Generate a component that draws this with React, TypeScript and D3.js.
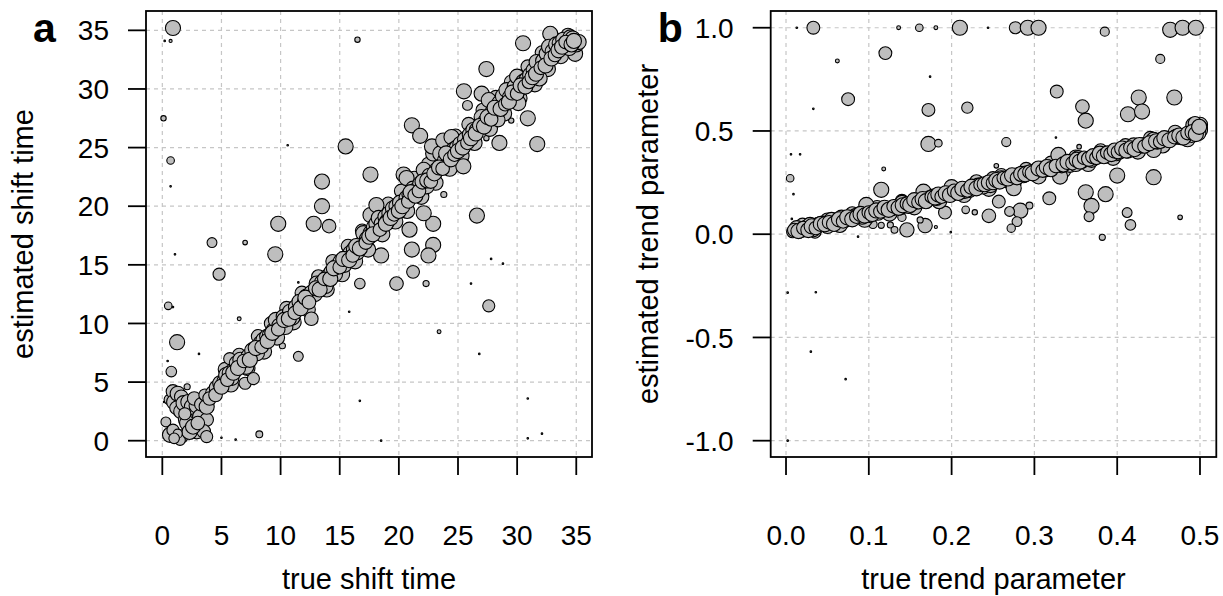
import React from "react";
import * as d3 from "d3";

// ---------- Panel a: shift time ----------
const trueShift = [
  0.9, 0.2, 0.7, 0.1, 0.7, 0.7, 10.6, 9.8, 4.2, 7.0,
  13.5, 13.5, 12.8, 14.1, 16.5, 15.5, 17.6, 21.1, 21.8, 25.5,
  25.8, 27.4, 30.5, 30.9, 28.5, 31.7, 27.4, 29.5, 26.6, 23.8,
  22.9, 22.9, 22.1, 20.9, 21.1, 22.5, 18.5, 21.2, 16.7, 19.8,
  22.3, 27.6, 23.4, 27.8, 28.8, 26.1, 15.8, 26.8, 16.7, 18.5,
  30.9, 30.9, 32.1, 9.55, 1.07, 4.8, 0.5, 0.9, 1.25, 6.5,
  3.1, 0.45, 0.76, 10.15, 11.5, 11.5, 0.3, 8.2, 5.0, 6.2,
  0.15, 0.7,
  0.6, 0.9, 1.0, 1.3, 1.6, 1.2, 1.6, 1.8, 2.0, 2.2,
  2.5, 2.1, 2.9, 2.7, 3.2, 3.3, 3.75, 3.75, 3.6, 2.1,
  2.9, 3.5, 3.75, 0.65, 0.9, 1.6, 1.5, 2.3, 1.3, 2.6,
  1.9, 3.0, 1.0,
  5.3, 5.8, 6.5, 7.2, 8.1, 8.6, 9.2, 9.7, 10.5, 11.1,
  11.8, 12.3, 13.2, 13.9, 14.4, 15.2, 15.7, 16.3, 16.9, 17.4,
  18.0, 18.6, 19.1, 19.7, 20.2, 20.7, 21.3, 21.9, 22.5, 23.1,
  23.6, 24.3, 24.8, 25.3, 25.9, 26.4, 27.1, 27.7, 28.2, 28.9,
  29.5, 30.2, 30.9, 31.5, 32.1, 32.6, 33.1, 33.7, 34.3, 34.8,
  4.3, 4.0, 4.6, 4.9, 5.2, 5.4, 5.7, 5.9, 6.1, 5.7,
  6.3, 6.6, 6.8, 7.0, 7.1, 7.3, 7.6, 7.7, 8.0, 8.3,
  8.55, 8.8, 9.1, 9.4, 9.6, 9.9, 10.4, 10.2, 10.8, 11.0,
  11.3, 11.6, 12.0, 12.2, 12.6, 12.6, 12.9, 13.05, 13.5, 13.8,
  14.0, 14.3, 14.6, 14.8, 15.1, 15.4, 15.6, 15.9, 16.2, 16.5,
  16.85, 17.0, 17.3, 17.6, 17.6, 17.9, 18.1, 18.1, 18.3, 18.55,
  18.8, 19.0, 19.2, 19.5, 19.8, 20.1, 20.4, 20.65, 20.65, 20.9,
  21.2, 21.5, 21.8, 22.1, 22.35, 22.6, 22.9, 22.8, 23.2, 23.5,
  23.75, 23.9, 24.2, 24.45, 24.6, 24.9, 25.2, 25.45, 25.6, 26.0,
  26.3, 26.6, 27.0, 27.0, 27.3, 27.6, 27.9, 28.3, 28.5, 28.4,
  28.8, 29.1, 29.4, 29.8, 30.1, 30.1, 30.0, 30.5, 30.8, 31.1,
  31.4, 31.65, 31.9, 32.2, 32.5, 32.8, 32.7, 33.0, 33.3, 33.6,
  33.9, 34.2, 34.5, 34.7, 34.9, 35.0, 35.2, 34.4,
  4.5, 5.0, 5.5, 6.0, 6.4, 6.9, 7.4, 7.9, 8.4, 8.9,
  9.3, 9.8, 10.3, 10.7, 11.2, 11.7, 12.1, 12.4, 13.0, 13.3,
  13.7, 14.2, 14.5, 15.0, 15.3, 15.8, 16.1, 16.4, 16.7, 17.2,
  17.5, 17.8, 18.4, 18.9, 19.3, 19.6, 20.0, 20.3, 20.8, 21.0,
  21.4, 21.7, 22.0, 22.4, 22.7, 23.0, 23.4, 23.7, 24.0, 24.4,
  24.7, 25.0, 25.4, 25.8, 26.1, 26.5, 26.8, 27.2, 27.5, 27.8,
  28.1, 28.6, 29.0, 29.3, 29.6, 30.0, 30.3, 30.7, 31.0, 31.3,
  31.6, 32.0, 32.4, 32.9, 33.2, 33.5, 33.8, 34.1, 34.6, 34.8,
];
const estShift = [
  35.2, 34.1, 34.1, 27.5, 23.9, 21.7, 25.2, 18.5, 16.9, 16.9,
  22.1, 20.0, 18.5, 18.3, 34.2, 25.1, 22.7, 26.9, 26.0, 29.8,
  28.6, 31.7, 33.9, 27.5, 25.4, 25.3, 25.8, 27.3, 19.2, 21.0,
  18.5, 16.7, 19.4, 18.0, 16.3, 15.8, 15.8, 14.4, 13.4, 13.4,
  13.4, 11.5, 9.3, 15.5, 15.1, 13.4, 11.0, 7.4, 3.4, 0.0,
  3.6, 0.2, 0.6, 15.9, 15.9, 14.2, 11.5, 11.4, 8.4, 10.4,
  7.4, 6.8, 5.9, 8.1, 7.2, 13.5, 1.6, 0.55, 0.25, 0.1,
  3.3, 4.6,
  3.5, 4.2, 3.3, 4.0, 3.75, 2.8, 2.5, 3.2, 1.8, 3.3,
  2.9, 4.6, 3.0, 3.6, 2.05, 3.1, 1.8, 2.9, 3.9, 1.5,
  0.8, 0.8, 0.35, 0.5, 0.9, 0.35, 0.05, 0.75, 0.6, 1.2,
  2.3, 1.5, 0.2,
  6.1, 4.8, 7.3, 6.2, 8.9, 7.6, 10.0, 8.8, 11.3, 10.1,
  12.6, 11.2, 14.0, 12.9, 15.3, 14.2, 16.6, 15.3, 17.9, 16.3,
  19.2, 17.6, 20.2, 18.7, 21.3, 19.6, 22.4, 20.8, 23.6, 22.0,
  24.8, 23.2, 26.0, 24.3, 27.0, 25.4, 28.2, 26.6, 29.3, 27.9,
  30.6, 29.2, 31.9, 30.4, 33.1, 31.7, 34.3, 32.8, 34.6, 33.5,
  4.05, 3.6, 4.5, 4.9, 5.1, 5.6, 5.75, 5.3, 6.1, 7.0,
  6.6, 6.9, 6.4, 4.9, 6.3, 7.2, 7.7, 5.3, 7.45, 8.3,
  8.6, 8.9, 9.0, 9.4, 10.3, 9.8, 9.7, 10.6, 11.0, 10.5,
  11.4, 11.85, 11.9, 12.3, 12.6, 10.4, 12.5, 13.4, 13.5, 13.2,
  14.0, 14.4, 14.2, 14.9, 15.3, 15.0, 15.6, 16.0, 16.3, 16.0,
  16.8, 17.7, 17.2, 17.7, 19.25, 18.2, 18.5, 20.1, 19.0, 18.5,
  19.1, 18.7, 19.4, 19.8, 20.0, 20.3, 22.7, 20.7, 22.4, 21.0,
  21.5, 21.4, 21.9, 23.1, 21.7, 22.6, 24.5, 25.1, 23.1, 24.5,
  25.6, 23.9, 24.2, 25.9, 24.8, 25.0, 25.3, 23.4, 25.7, 26.1,
  26.5, 26.5, 27.6, 29.6, 27.2, 29.05, 28.0, 28.2, 28.8, 27.35,
  29.4, 29.9, 29.3, 30.2, 29.9, 28.8, 31.05, 30.6, 30.8, 31.2,
  31.6, 32.3, 30.9, 32.4, 33.0, 34.7, 33.6, 33.2, 33.8, 33.9,
  34.2, 33.9, 34.4, 34.3, 33.0, 33.8, 34.0, 33.5,
  3.9, 4.6, 5.2, 5.8, 6.2, 6.8, 6.9, 7.9, 8.0, 8.5,
  9.2, 9.5, 10.3, 10.4, 10.9, 11.3, 12.2, 11.8, 13.0, 12.9,
  13.8, 13.8, 14.7, 14.8, 15.5, 15.4, 15.8, 16.6, 16.4, 16.9,
  17.4, 17.6, 18.0, 18.5, 19.0, 19.3, 19.6, 20.0, 20.4, 21.2,
  20.9, 21.3, 22.1, 22.2, 22.1, 22.8, 23.3, 23.2, 24.5, 24.0,
  24.4, 24.7, 25.0, 25.4, 25.8, 26.2, 26.9, 26.8, 27.6, 27.4,
  28.4, 28.3, 28.7, 28.9, 29.7, 29.6, 30.3, 30.2, 30.6, 31.0,
  31.3, 31.8, 32.0, 32.6, 32.9, 33.3, 33.6, 34.0, 33.8, 34.1,
];
const shiftWeight = [
  0.9, 0, 0.1, 0.25, 0.4, 0, 0, 0.9, 0.55, 0.2,
  0.9, 0.9, 0.9, 0.8, 0.25, 0.9, 0.9, 0.9, 0.9, 0.9,
  0.55, 0.9, 0.9, 0.9, 0.9, 0.9, 0.25, 0.25, 0.9, 0.3,
  0.9, 0.9, 0.9, 0.9, 0.9, 0.9, 0.9, 0.75, 0.6, 0.8,
  0.3, 0.7, 0.15, 0, 0, 0, 0, 0, 0, 0,
  0, 0, 0, 0.9, 0, 0.7, 0.4, 0, 0.9, 0.15,
  0, 0, 0.6, 0.3, 0.55, 0, 0.55, 0.35, 0, 0,
  0, 0.1,
  0.6, 0.8, 0.9, 0.9, 0.8, 0.8, 0.9, 0.9, 0.9, 0.9,
  0.9, 0.3, 0.9, 0.8, 0.9, 0.8, 0.8, 0.9, 0.7, 0.9,
  0.9, 0.8, 0.7, 0.9, 0.7, 0.8, 0.6, 0.9, 0.5, 0.9,
  0.7, 0.8, 0.6,
  0.8, 0.9, 0.8, 0.9, 0.8, 0.9, 0.8, 0.9, 0.8, 0.9,
  0.8, 0.9, 0.8, 0.9, 0.8, 0.9, 0.8, 0.9, 0.8, 0.9,
  0.8, 0.9, 0.8, 0.9, 0.8, 0.9, 0.8, 0.9, 0.8, 0.9,
  0.8, 0.9, 0.8, 0.9, 0.8, 0.9, 0.8, 0.9, 0.8, 0.9,
  0.8, 0.9, 0.8, 0.9, 0.8, 0.9, 0.8, 0.9, 0.8, 0.9,
  0.9, 0.8, 0.9, 0.9, 0.8, 0.9, 0.9, 0.8, 0.9, 0.7,
  0.9, 0.9, 0.9, 0.7, 0.9, 0.9, 0.9, 0.7, 0.9, 0.9,
  0.9, 0.8, 0.9, 0.9, 0.9, 0.9, 0.9, 0.8, 0.9, 0.9,
  0.9, 0.9, 0.8, 0.9, 0.9, 0.8, 0.9, 0.9, 0.9, 0.9,
  0.9, 0.9, 0.9, 0.9, 0.9, 0.9, 0.9, 0.9, 0.9, 0.8,
  0.9, 0.9, 0.9, 0.9, 0.9, 0.9, 0.9, 0.9, 0.9, 0.9,
  0.8, 0.9, 0.9, 0.9, 0.9, 0.9, 0.9, 0.9, 0.9, 0.9,
  0.9, 0.9, 0.9, 0.9, 0.9, 0.9, 0.9, 0.9, 0.9, 0.9,
  0.9, 0.9, 0.9, 0.9, 0.9, 0.9, 0.9, 0.9, 0.9, 0.9,
  0.9, 0.9, 0.9, 0.9, 0.9, 0.9, 0.9, 0.9, 0.9, 0.8,
  0.9, 0.9, 0.9, 0.9, 0.9, 0.9, 0.9, 0.9, 0.9, 0.9,
  0.9, 0.9, 0.9, 0.9, 0.9, 0.9, 0.9, 0.9, 0.9, 0.9,
  0.9, 0.9, 0.9, 0.9, 0.9, 0.9, 0.9, 0.9,
  0.8, 0.9, 0.8, 0.9, 0.9, 0.8, 0.9, 0.9, 0.8, 0.9,
  0.9, 0.8, 0.9, 0.9, 0.8, 0.9, 0.9, 0.8, 0.9, 0.9,
  0.8, 0.9, 0.9, 0.8, 0.9, 0.9, 0.8, 0.9, 0.9, 0.8,
  0.9, 0.9, 0.8, 0.9, 0.9, 0.8, 0.9, 0.9, 0.8, 0.9,
  0.9, 0.8, 0.9, 0.9, 0.8, 0.9, 0.9, 0.8, 0.9, 0.9,
  0.8, 0.9, 0.9, 0.8, 0.9, 0.9, 0.8, 0.9, 0.9, 0.8,
  0.9, 0.9, 0.8, 0.9, 0.9, 0.8, 0.9, 0.9, 0.8, 0.9,
  0.9, 0.8, 0.9, 0.9, 0.8, 0.9, 0.9, 0.8, 0.9, 0.9,
];
const shiftTicks = [0, 5, 10, 15, 20, 25, 30, 35];

// ---------- Panel b: trend parameter ----------
const trueTrend = [
  0.013, 0.033, 0.136, 0.161, 0.181, 0.062, 0.12, 0.174, 0.075, 0.033,
  0.172, 0.172, 0.184, 0.006, 0.017, 0.005, 0.118, 0.115, 0.009, 0.007,
  0.087, 0.105, 0.115, 0.126, 0.131, 0.146, 0.168, 0.14, 0.162, 0.181,
  0.21, 0.244, 0.277, 0.292, 0.305, 0.385, 0.464, 0.479, 0.495, 0.452,
  0.327, 0.219, 0.358, 0.362, 0.426, 0.413, 0.43, 0.469, 0.266, 0.326,
  0.354, 0.254, 0.40, 0.444, 0.362, 0.386, 0.369, 0.366, 0.412, 0.416,
  0.476, 0.382, 0.318, 0.257, 0.283, 0.294, 0.27, 0.279, 0.272, 0.245,
  0.217, 0.228, 0.192, 0.199, 0.002, 0.036, 0.03, 0.072, 0.002, 0.003,
  0.012, 0.025,
  0.02, 0.035, 0.05, 0.065, 0.08, 0.095, 0.11, 0.125, 0.14, 0.155,
  0.17, 0.185, 0.2, 0.215, 0.23, 0.245, 0.26, 0.275, 0.29, 0.305,
  0.32, 0.335, 0.35, 0.365, 0.38, 0.395, 0.41, 0.425, 0.44, 0.455,
  0.47, 0.485, 0.5, 0.49,
  0.008, 0.013, 0.016, 0.019, 0.024, 0.029, 0.033, 0.039, 0.045, 0.05,
  0.055, 0.062, 0.067, 0.071, 0.078, 0.083, 0.087, 0.092, 0.097, 0.101,
  0.106, 0.111, 0.116, 0.121, 0.128, 0.133, 0.138, 0.143, 0.148, 0.152,
  0.157, 0.162, 0.166, 0.17, 0.174, 0.178, 0.182, 0.186, 0.19, 0.195,
  0.2, 0.206, 0.211, 0.216, 0.222, 0.227, 0.232, 0.238, 0.243, 0.247,
  0.252, 0.256, 0.26, 0.265, 0.27, 0.275, 0.277, 0.282, 0.287, 0.291,
  0.296, 0.3, 0.303, 0.308, 0.313, 0.318, 0.323, 0.329, 0.331, 0.333,
  0.338, 0.343, 0.348, 0.353, 0.357, 0.362, 0.369, 0.373, 0.377, 0.381,
  0.386, 0.39, 0.395, 0.399, 0.403, 0.408, 0.413, 0.419, 0.424, 0.43,
  0.436, 0.444, 0.444, 0.449, 0.454, 0.46, 0.466, 0.472, 0.477, 0.482,
  0.488, 0.49, 0.492, 0.494, 0.497, 0.5, 0.5, 0.498, 0.2, 0.14,
  0.25, 0.35, 0.42,
  0.01, 0.015, 0.021, 0.027, 0.031, 0.036, 0.042, 0.047, 0.052, 0.058,
  0.064, 0.069, 0.074, 0.08, 0.085, 0.09, 0.095, 0.1, 0.104, 0.109,
  0.114, 0.119, 0.124, 0.13, 0.136, 0.141, 0.146, 0.15, 0.155, 0.16,
  0.165, 0.169, 0.176, 0.18, 0.184, 0.188, 0.193, 0.198, 0.203, 0.208,
  0.213, 0.219, 0.224, 0.23, 0.235, 0.24, 0.245, 0.25, 0.254, 0.258,
  0.263, 0.268, 0.273, 0.279, 0.284, 0.289, 0.294, 0.298, 0.305, 0.31,
  0.315, 0.32, 0.326, 0.335, 0.34, 0.346, 0.351, 0.355, 0.36, 0.366,
  0.371, 0.375, 0.379, 0.384, 0.388, 0.393, 0.397, 0.401, 0.406, 0.411,
  0.416, 0.421, 0.427, 0.433, 0.439, 0.447, 0.452, 0.457, 0.463, 0.469,
  0.475, 0.48, 0.485, 0.491, 0.495, 0.499,
];
const estTrend = [
  1.0, 1.0, 1.0, 1.0, 1.0, 0.839, 0.877, 0.763, 0.654, 0.607,
  0.602, 0.437, 0.441, 0.387, 0.387, 0.271, 0.316, 0.215, 0.194, 0.074,
  -0.012, 0.048, 0.043, 0.045, 0.021, 0.021, 0.042, 0.082, 0.069, 0.035,
  1.0, 1.0, 1.0, 1.0, 1.0, 0.981, 0.99, 1.0, 1.0, 0.849,
  0.691, 0.613, 0.618, 0.55, 0.662, 0.581, 0.594, 0.662, 0.446, 0.468,
  0.424, 0.331, 0.284, 0.276, 0.203, 0.194, 0.137, 0.085, 0.105, 0.045,
  0.082, -0.015, 0.174, 0.158, 0.114, 0.139, 0.11, 0.061, 0.029, 0.089,
  0.118, 0.106, 0.105, 0.01, -0.283, -0.281, -0.569, -0.702, -1.0, 0.005,
  0.0, 0.03,
  0.045, 0.01, 0.07, 0.045, 0.1, 0.07, 0.13, 0.1, 0.16, 0.13,
  0.19, 0.16, 0.225, 0.19, 0.255, 0.22, 0.285, 0.25, 0.315, 0.28,
  0.345, 0.31, 0.375, 0.34, 0.405, 0.37, 0.43, 0.4, 0.465, 0.43,
  0.495, 0.46, 0.53, 0.5,
  0.012, 0.029, 0.005, 0.021, 0.035, 0.045, 0.02, 0.045, 0.055, 0.04,
  0.069, 0.062, 0.08, 0.069, 0.078, 0.09, 0.093, 0.085, 0.142, 0.093,
  0.11, 0.104, 0.118, 0.122, 0.126, 0.135, 0.13, 0.145, 0.137, 0.15,
  0.158, 0.166, 0.206, 0.165, 0.175, 0.182, 0.172, 0.19, 0.19, 0.2,
  0.196, 0.206, 0.215, 0.21, 0.215, 0.225, 0.235, 0.231, 0.245, 0.238,
  0.255, 0.26, 0.271, 0.262, 0.28, 0.223, 0.279, 0.288, 0.282, 0.295,
  0.3, 0.305, 0.311, 0.316, 0.31, 0.322, 0.32, 0.384, 0.279, 0.33,
  0.34, 0.336, 0.35, 0.368, 0.355, 0.36, 0.36, 0.372, 0.378, 0.384,
  0.385, 0.39, 0.395, 0.392, 0.4, 0.41, 0.405, 0.416, 0.42, 0.43,
  0.432, 0.408, 0.457, 0.445, 0.457, 0.46, 0.462, 0.473, 0.47, 0.48,
  0.489, 0.481, 0.529, 0.537, 0.5, 0.513, 0.505, 0.49, 0.228, 0.155,
  0.27, 0.34, 0.43,
  0.02, 0.015, 0.03, 0.02, 0.038, 0.03, 0.05, 0.048, 0.058, 0.05,
  0.072, 0.062, 0.082, 0.072, 0.085, 0.098, 0.09, 0.105, 0.098, 0.115,
  0.11, 0.128, 0.118, 0.135, 0.128, 0.14, 0.148, 0.142, 0.165, 0.155,
  0.17, 0.16, 0.182, 0.178, 0.192, 0.182, 0.198, 0.19, 0.21, 0.2,
  0.22, 0.212, 0.23, 0.222, 0.24, 0.242, 0.25, 0.248, 0.262, 0.255,
  0.272, 0.27, 0.285, 0.272, 0.292, 0.29, 0.302, 0.295, 0.318, 0.308,
  0.325, 0.315, 0.33, 0.338, 0.35, 0.344, 0.36, 0.352, 0.37, 0.365,
  0.378, 0.37, 0.39, 0.378, 0.395, 0.388, 0.405, 0.398, 0.415, 0.405,
  0.42, 0.412, 0.432, 0.425, 0.44, 0.45, 0.448, 0.465, 0.455, 0.47,
  0.478, 0.468, 0.49, 0.495, 0.485, 0.52,
];
const trendWeight = [
  0, 0.75, 0.15, 0.4, 0.15, 0.15, 0.75, 0, 0.75, 0,
  0.75, 0.9, 0.4, 0, 0, 0.4, 0.15, 0.9, 0, 0,
  0, 0.45, 0.3, 0.3, 0.35, 0.85, 0.85, 0.45, 0.3, 0.1,
  0.9, 0, 0.7, 0.9, 0.9, 0.5, 0.9, 0.9, 0.9, 0.5,
  0.75, 0.65, 0.8, 0.9, 0.9, 0.9, 0.9, 0.9, 0.5, 0,
  0.2, 0.2, 0.9, 0.9, 0.9, 0.9, 0.9, 0.55, 0.55, 0.6,
  0.2, 0.3, 0.75, 0.75, 0.9, 0.35, 0.55, 0.55, 0.45, 0.8,
  0.4, 0.25, 0.75, 0, 0, 0, 0, 0, 0, 0,
  0, 0.1,
  0.8, 0.7, 0.8, 0.9, 0.8, 0.9, 0.8, 0.9, 0.8, 0.9,
  0.8, 0.9, 0.8, 0.9, 0.8, 0.9, 0.8, 0.9, 0.8, 0.9,
  0.8, 0.9, 0.8, 0.9, 0.8, 0.9, 0.8, 0.9, 0.8, 0.9,
  0.8, 0.9, 0.9, 0.9,
  0.7, 0.9, 0.6, 0.9, 0.8, 0.9, 0.8, 0.9, 0.8, 0.9,
  0.9, 0.8, 0.9, 0.9, 0.9, 0.8, 0.9, 0.9, 0.9, 0.9,
  0.8, 0.9, 0.9, 0.8, 0.9, 0.8, 0.9, 0.8, 0.9, 0.8,
  0.9, 0.9, 0.9, 0.8, 0.9, 0.9, 0.8, 0.9, 0.9, 0.8,
  0.9, 0.9, 0.8, 0.9, 0.9, 0.8, 0.9, 0.9, 0.8, 0.9,
  0.9, 0.8, 0.9, 0.9, 0.8, 0.9, 0.9, 0.9, 0.8, 0.9,
  0.9, 0.8, 0.9, 0.9, 0.8, 0.9, 0.9, 0.9, 0.9, 0.8,
  0.9, 0.9, 0.8, 0.9, 0.9, 0.8, 0.9, 0.9, 0.8, 0.9,
  0.9, 0.8, 0.9, 0.9, 0.9, 0.8, 0.9, 0.9, 0.8, 0.9,
  0.9, 0.9, 0.9, 0.8, 0.9, 0.9, 0.8, 0.9, 0.9, 0.8,
  0.9, 0.9, 0.9, 0.8, 0.9, 0.9, 0.9, 0.9, 0.9, 0.8,
  0.8, 0.9, 0.9,
  0.8, 0.9, 0.8, 0.9, 0.9, 0.8, 0.9, 0.9, 0.8, 0.9,
  0.9, 0.8, 0.9, 0.9, 0.8, 0.9, 0.9, 0.8, 0.9, 0.9,
  0.8, 0.9, 0.9, 0.8, 0.9, 0.9, 0.8, 0.9, 0.9, 0.8,
  0.9, 0.9, 0.8, 0.9, 0.9, 0.8, 0.9, 0.9, 0.8, 0.9,
  0.9, 0.8, 0.9, 0.9, 0.8, 0.9, 0.9, 0.8, 0.9, 0.9,
  0.8, 0.9, 0.9, 0.8, 0.9, 0.9, 0.8, 0.9, 0.9, 0.8,
  0.9, 0.9, 0.8, 0.9, 0.9, 0.8, 0.9, 0.9, 0.8, 0.9,
  0.9, 0.8, 0.9, 0.9, 0.8, 0.9, 0.9, 0.8, 0.9, 0.9,
  0.8, 0.9, 0.9, 0.8, 0.9, 0.9, 0.8, 0.9, 0.9, 0.8,
  0.9, 0.9, 0.8, 0.9, 0.9, 0.9,
];
const trendXTicks = [0, 0.1, 0.2, 0.3, 0.4, 0.5];
const trendYTicks = [-1, -0.5, 0, 0.5, 1];

const FONT = "'Liberation Sans', Arial, Helvetica, sans-serif";
const radius = d3.scaleLinear().domain([0, 1]).range([0.8, 8.3]);

type PanelProps = {
  letter: string;
  xs: number[];
  ys: number[];
  ws: number[];
  xDomain: [number, number];
  yDomain: [number, number];
  left: number;
  right: number;
  top: number;
  bottom: number;
  xTicks: number[];
  yTicks: number[];
  fmt: (v: number) => string;
  xTitle: string;
  yTitle: string;
};

function Panel(p: PanelProps) {
  const x = d3.scaleLinear().domain(p.xDomain).range([p.left, p.right]);
  const y = d3.scaleLinear().domain(p.yDomain).range([p.bottom, p.top]);
  const tickLen = 18;
  const axisW = 1.8;
  return (
    <g>
      {p.xTicks.map((t) => (
        <line key={"gx" + t} x1={x(t)} x2={x(t)} y1={p.top} y2={p.bottom}
          stroke="#c6c6c6" strokeWidth={1.2} strokeDasharray="4,4" />
      ))}
      {p.yTicks.map((t) => (
        <line key={"gy" + t} x1={p.left} x2={p.right} y1={y(t)} y2={y(t)}
          stroke="#c6c6c6" strokeWidth={1.2} strokeDasharray="4,4" />
      ))}
      {p.xs.map((v, i) => (
        <circle key={"p" + i} cx={x(v)} cy={y(p.ys[i])} r={radius(p.ws[i])}
          fill="#bebebe" stroke="#000" strokeWidth={1.1} />
      ))}
      <rect x={p.left} y={p.top} width={p.right - p.left} height={p.bottom - p.top}
        fill="none" stroke="#000" strokeWidth={axisW} />
      {p.xTicks.map((t) => (
        <g key={"tx" + t}>
          <line x1={x(t)} x2={x(t)} y1={p.bottom} y2={p.bottom + tickLen} stroke="#000" strokeWidth={axisW} />
          <text x={x(t)} y={545} textAnchor="middle" fontSize={28} fontFamily={FONT}>{p.fmt(t)}</text>
        </g>
      ))}
      {p.yTicks.map((t) => (
        <g key={"ty" + t}>
          <line x1={p.left - tickLen} x2={p.left} y1={y(t)} y2={y(t)} stroke="#000" strokeWidth={axisW} />
          <text x={p.left - 37} y={y(t)} dy="0.36em" textAnchor="end" fontSize={28} fontFamily={FONT}>{p.fmt(t)}</text>
        </g>
      ))}
      <text x={(p.left + p.right) / 2} y={589} textAnchor="middle" fontSize={29} fontFamily={FONT}>{p.xTitle}</text>
      <text transform={`translate(${p.left - 113},${(p.top + p.bottom) / 2}) rotate(-90)`}
        textAnchor="middle" fontSize={29} fontFamily={FONT}>{p.yTitle}</text>
      <text x={p.left - 113} y={42} fontSize={41} fontWeight="bold" fontFamily={FONT}>{p.letter}</text>
    </g>
  );
}

export default function App() {
  return (
    <svg width={1223} height={596} style={{ position: "absolute", left: 0, top: 0, background: "#fff" }}>
      <rect x={0} y={0} width={1223} height={596} fill="#fff" />
      <Panel
        letter="a"
        xs={trueShift}
        ys={estShift}
        ws={shiftWeight}
        xDomain={[-1.38, 36.33]}
        yDomain={[-1.39, 36.65]}
        left={146}
        right={592}
        top={11}
        bottom={457}
        xTicks={shiftTicks}
        yTicks={shiftTicks}
        fmt={(v) => String(v)}
        xTitle="true shift time"
        yTitle="estimated shift time"
      />
      <Panel
        letter="b"
        xs={trueTrend}
        ys={estTrend}
        ws={trendWeight}
        xDomain={[-0.0185, 0.5197]}
        yDomain={[-1.079, 1.081]}
        left={770.7}
        right={1216.3}
        top={11}
        bottom={457}
        xTicks={trendXTicks}
        yTicks={trendYTicks}
        fmt={(v) => d3.format(".1f")(v).replace("−", "-")}
        xTitle="true trend parameter"
        yTitle="estimated trend parameter"
      />
    </svg>
  );
}
